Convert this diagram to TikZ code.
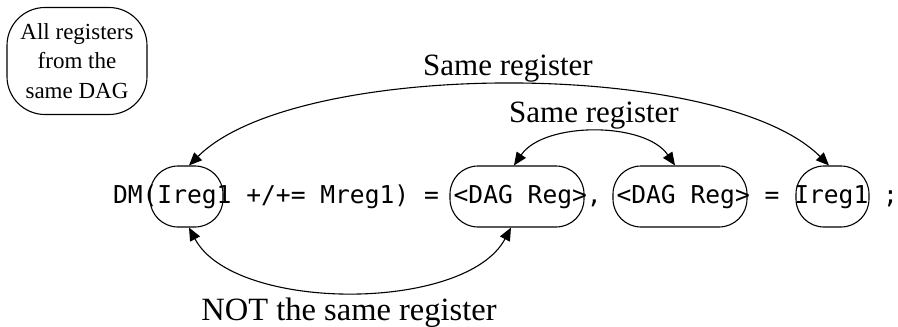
\documentclass[tikz,border=0pt]{standalone}
\usepackage{fontspec}
\setmainfont{Liberation Serif}
\newfontfamily\codefont{DejaVu Sans Mono}
\usetikzlibrary{arrows.meta}
\begin{document}
\begin{tikzpicture}[x=1pt,y=-1pt,
  line width=1.1pt,
  reg/.style={draw, rounded corners=28pt, minimum width=73pt, minimum height=61pt, inner sep=0pt},
  dag/.style={draw, rounded corners=28pt, minimum width=134pt, minimum height=61pt, inner sep=0pt},
  lbl/.style={font=\fontsize{31}{34}\selectfont, inner sep=0pt, anchor=base},
  link/.style={{Triangle[length=13pt,width=11pt]}-{Triangle[length=13pt,width=11pt]}},
]
\useasboundingbox (0,0) rectangle (898,327);
\node[draw, rounded corners=38pt, minimum width=140pt, minimum height=107pt, align=center,
  font=\fontsize{23}{29.5}\selectfont, inner sep=0pt] (note) at (77,61) {All registers\\from the\\same DAG};
\node[anchor=base west, inner sep=0pt, font=\codefont\fontsize{24.6}{30}\selectfont] (code) at (112.5,203)
  {DM(Ireg1 +/+= Mreg1) = <DAG Reg>, <DAG Reg> = Ireg1 ;};
\node[reg] (r1) at (186.5,196.5) {};
\node[dag] (d1) at (517,196.5) {};
\node[dag] (d2) at (680,196.5) {};
\node[reg] (r2) at (832.5,196.5) {};
\node[lbl] (t1) at (508,75) {Same register};
\node[lbl] (t2) at (594,122) {Same register};
\node[lbl, font=\fontsize{32.5}{35}\selectfont] (t3) at (349,320) {NOT the same register};
\draw[link] ([xshift=2.5pt]r1.north) .. controls +(107,-107) and +(-107,-107) .. ([xshift=-3.5pt]r2.north);
\draw[link] ([xshift=-3pt]d1.north) .. controls +(30,-44) and +(-30,-44) .. ([xshift=-5pt]d2.north);
\draw[link] ([xshift=2.5pt]r1.south) .. controls +(45,85) and +(-45,85) .. ([xshift=-6pt]d1.south);
\end{tikzpicture}
\end{document}
